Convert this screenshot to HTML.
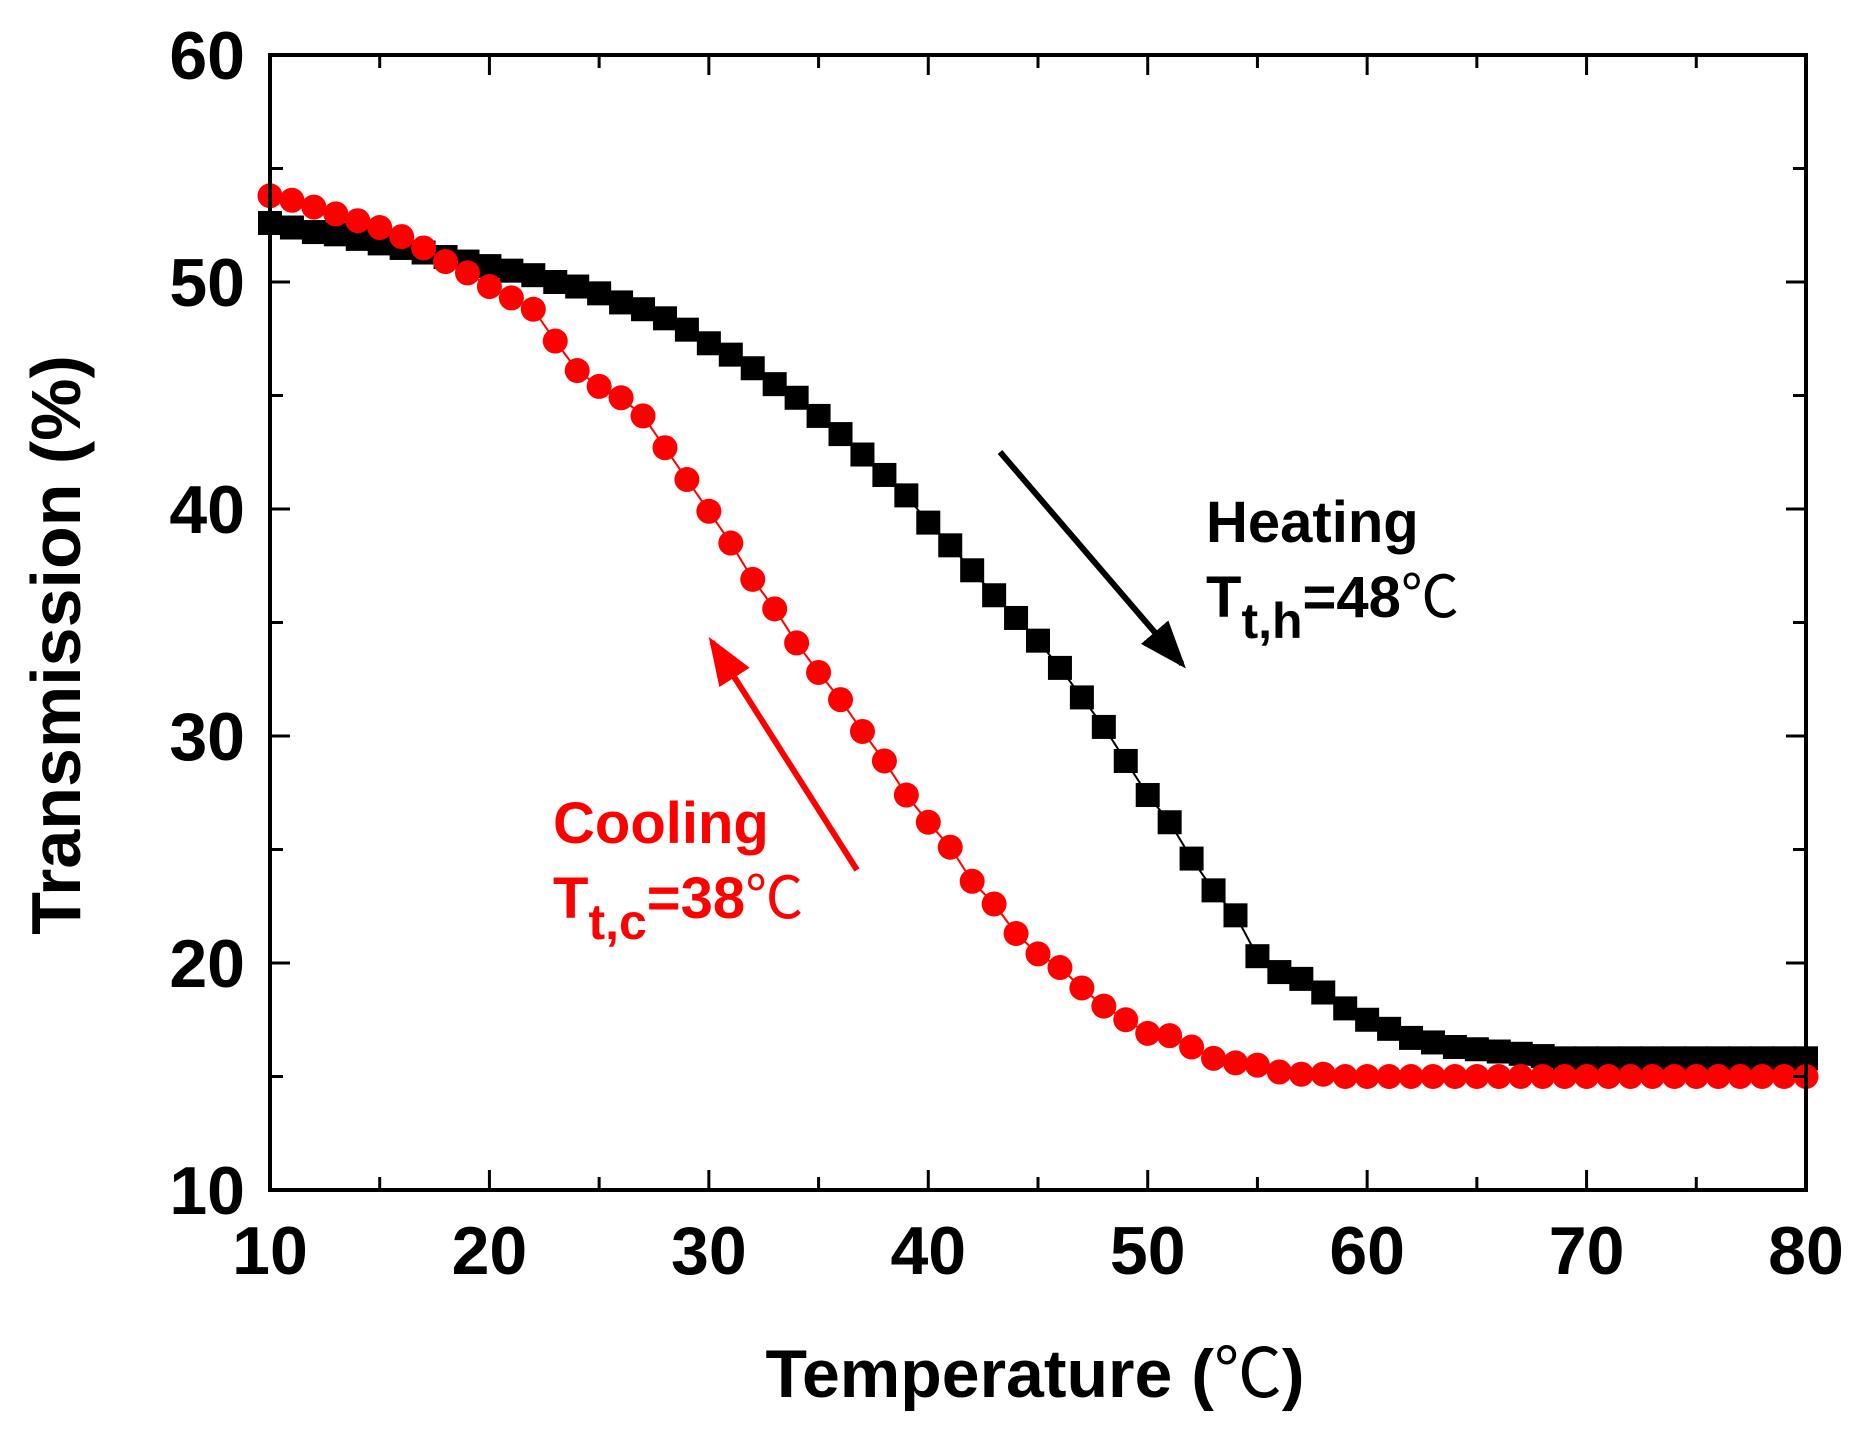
<!DOCTYPE html>
<html><head><meta charset="utf-8"><style>
html,body{margin:0;padding:0;background:#fff}
svg{display:block}
text{font-family:"Liberation Sans","Noto Sans CJK SC",sans-serif;font-weight:bold}
</style></head><body>
<svg id="chart" width="1866" height="1433" viewBox="0 0 1866 1433" xmlns="http://www.w3.org/2000/svg">
<defs>
<marker id="ahb" markerWidth="8" markerHeight="6" refX="7" refY="3" orient="auto" markerUnits="strokeWidth"><path d="M0,0 L8,3 L0,6 Z" fill="#000"/></marker>
<marker id="ahr" markerWidth="8" markerHeight="6" refX="7" refY="3" orient="auto" markerUnits="strokeWidth"><path d="M0,0 L8,3 L0,6 Z" fill="#f00"/></marker>
</defs>
<g id="series"></g>
<g id="axes"></g>
<line x1="1000" y1="452" x2="1182" y2="664" stroke="#000" stroke-width="6" marker-end="url(#ahb)"/>
<line x1="857" y1="870" x2="712" y2="642" stroke="#f00" stroke-width="6" marker-end="url(#ahr)"/>
<text x="1206" y="542" font-size="58" fill="#000">Heating</text>
<text x="1206" y="617" font-size="58" fill="#000">T<tspan font-size="50" dy="21">t,h</tspan><tspan dy="-21">=48</tspan><tspan font-weight="normal">℃</tspan></text>
<text x="553" y="843" font-size="58" fill="#f00">Cooling</text>
<text x="553" y="918" font-size="58" fill="#f00">T<tspan font-size="50" dy="21">t,c</tspan><tspan dy="-21">=38</tspan><tspan font-weight="normal">℃</tspan></text>
<text x="1035" y="1397" font-size="68" text-anchor="middle">Temperature (<tspan font-weight="normal">℃</tspan>)</text>
<text x="0" y="0" font-size="70" text-anchor="middle" transform="translate(80,645) rotate(-90)">Transmission (%)</text>
</svg>
<script>
const temps = [];
for (let t = 10; t <= 80; t++) temps.push(t);
const heating = [52.6,52.4,52.2,52.1,51.9,51.7,51.5,51.3,51.1,50.9,50.7,50.5,50.3,50.0,49.8,49.5,49.1,48.8,48.4,47.9,47.3,46.8,46.2,45.5,44.9,44.1,43.3,42.4,41.5,40.6,39.4,38.4,37.3,36.2,35.2,34.2,33.0,31.7,30.4,28.9,27.4,26.2,24.6,23.2,22.1,20.3,19.6,19.3,18.7,18.0,17.5,17.1,16.7,16.5,16.3,16.2,16.1,16.0,15.9,15.8,15.8,15.8,15.8,15.8,15.8,15.8,15.8,15.8,15.8,15.8,15.8];
const cooling = [53.8,53.6,53.3,53.0,52.7,52.4,52.0,51.5,50.9,50.4,49.8,49.3,48.8,47.4,46.1,45.4,44.9,44.1,42.7,41.3,39.9,38.5,36.9,35.6,34.1,32.8,31.6,30.2,28.9,27.4,26.2,25.1,23.6,22.6,21.3,20.4,19.8,18.9,18.1,17.5,16.9,16.8,16.3,15.8,15.6,15.5,15.2,15.1,15.1,15.0,15.0,15.0,15.0,15.0,15.0,15.0,15.0,15.0,15.0,15.0,15.0,15.0,15.0,15.0,15.0,15.0,15.0,15.0,15.0,15.0,15.0];
const xTicks = [10,20,30,40,50,60,70,80];
const yTicks = [10,20,30,40,50,60];

const L=270,R=1806,T=55,B=1190;
const xs = v => L + (v-10)/70*(R-L);
const ys = v => B - (v-10)/50*(B-T);
const NS="http://www.w3.org/2000/svg";
const ser=document.getElementById('series'), ax=document.getElementById('axes');
function mk(tag,attrs,parent){const e=document.createElementNS(NS,tag);for(const k in attrs)e.setAttribute(k,attrs[k]);parent.appendChild(e);return e;}

let p=mk('polyline',{points:temps.map((t,i)=>xs(t)+','+ys(heating[i])).join(' '),fill:'none',stroke:'#000','stroke-width':2},ser);


temps.forEach((t,i)=>{
  const r=mk('rect',{x:xs(t)-12,y:ys(heating[i])-12,width:24,height:24,fill:'#000'},ser);
  
  
});
p=mk('polyline',{points:temps.map((t,i)=>xs(t)+','+ys(cooling[i])).join(' '),fill:'none',stroke:'#f00','stroke-width':2},ser);


temps.forEach((t,i)=>{
  const c=mk('circle',{cx:xs(t),cy:ys(cooling[i]),r:12.5,fill:'#f00'},ser);
  
  
});

const fr=mk('rect',{x:L,y:T,width:R-L,height:B-T,fill:'none',stroke:'#000','stroke-width':4},ax);


for(let v=10;v<=80;v+=5){
  const len=(v%10===0)?20:13, x=xs(v);
  mk('line',{x1:x,y1:B,x2:x,y2:B-len,stroke:'#000','stroke-width':3},ax);
  mk('line',{x1:x,y1:T,x2:x,y2:T+len,stroke:'#000','stroke-width':3},ax);
}
for(let v=10;v<=60;v+=5){
  const len=(v%10===0)?20:13, y=ys(v);
  mk('line',{x1:L,y1:y,x2:L+len,y2:y,stroke:'#000','stroke-width':3},ax);
  mk('line',{x1:R,y1:y,x2:R-len,y2:y,stroke:'#000','stroke-width':3},ax);
}
xTicks.forEach(v=>{
  const t=mk('text',{x:xs(v),y:1274,'font-size':68,'text-anchor':'middle'},ax);
  t.textContent=v;
  
  
});
yTicks.forEach(v=>{
  const t=mk('text',{x:245,y:ys(v)+24,'font-size':68,'text-anchor':'end'},ax);
  t.textContent=v;
  
  
});
</script>
</body></html>
